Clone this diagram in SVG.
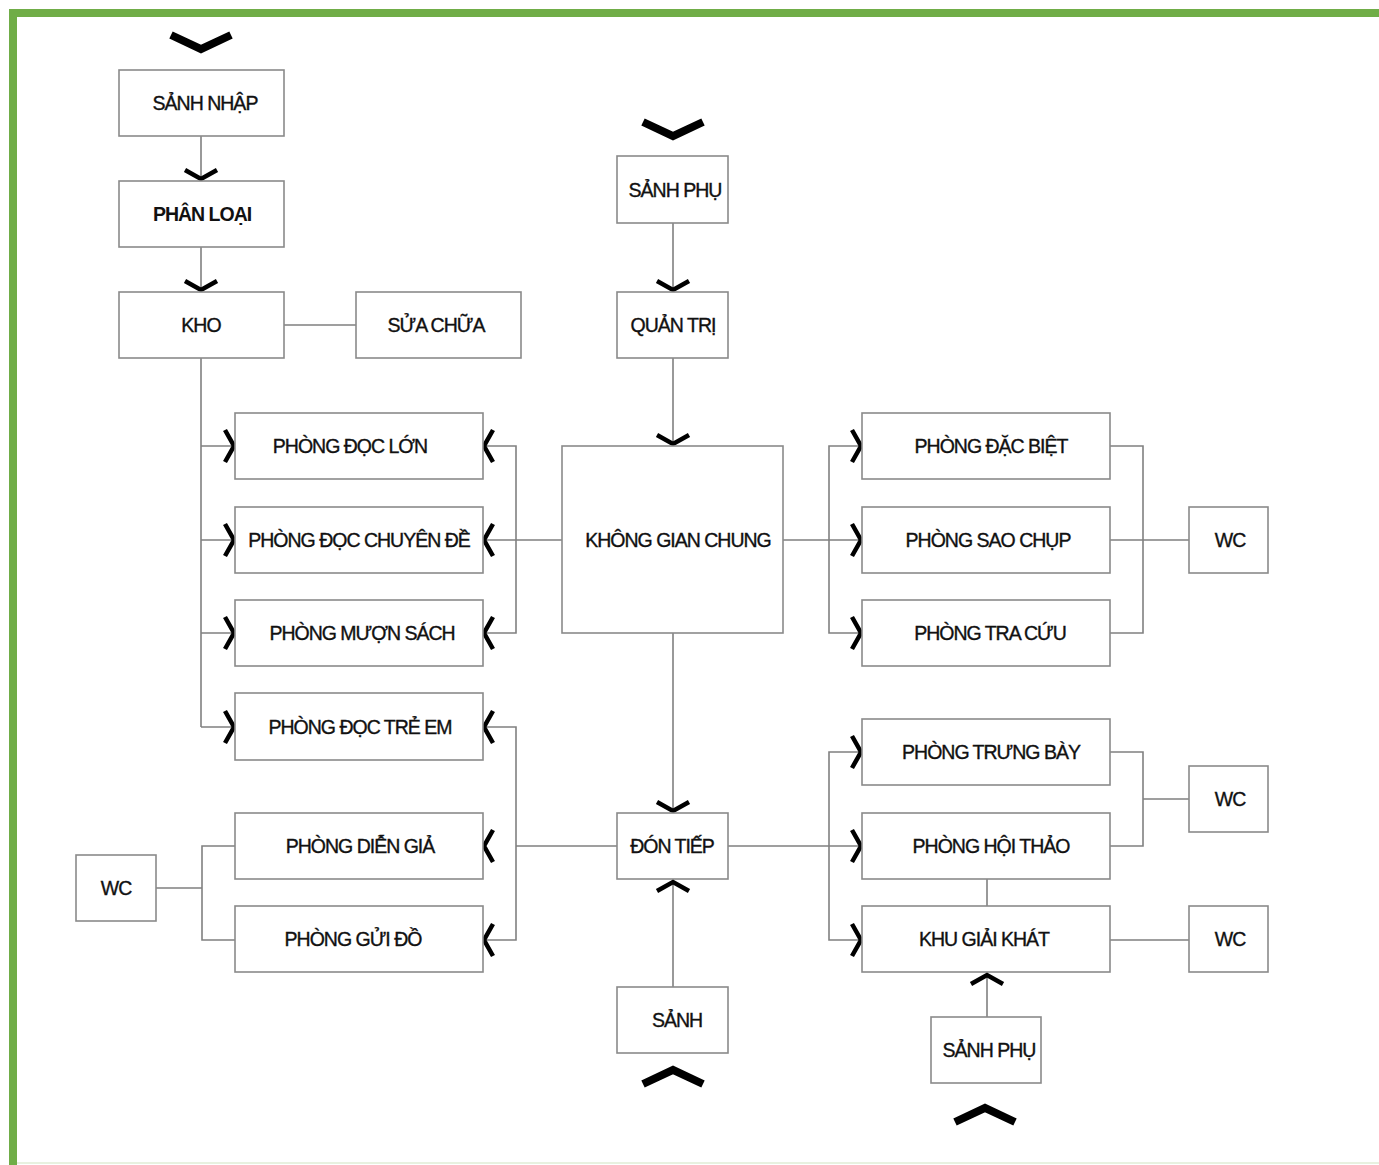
<svg xmlns="http://www.w3.org/2000/svg" xmlns:xlink="http://www.w3.org/1999/xlink" width="1379" height="1165" viewBox="0 0 1379 1165">
<style>
.bx{fill:#fff;stroke:#8a8a8a;stroke-width:1.6}
.ln{fill:none;stroke:#808080;stroke-width:1.6}
.t{font-family:"Liberation Sans",Arial,sans-serif;font-size:19.5px;fill:#111;stroke:#111;stroke-width:0.35;text-anchor:middle;letter-spacing:-1px}
.b{font-weight:bold;stroke-width:0}
.cs{fill:none;stroke:#000;stroke-width:4.5;stroke-linejoin:miter}
.cb{fill:none;stroke:#000;stroke-width:8;stroke-linejoin:miter}
</style>
<defs>
<path id="cs" class="cs" d="M-16,-9 L0,0 L16,-9"/>
<path id="cb" class="cb" d="M-30,-14 L0,0 L30,-14"/>
</defs>
<rect x="0" y="0" width="1379" height="1165" fill="#fff"/>
<rect x="9" y="9" width="1370" height="8" fill="#70ad47"/>
<rect x="9" y="9" width="8" height="1156" fill="#70ad47"/>
<rect x="17" y="1162" width="1362" height="2" fill="#e8f1e0"/>

<g id="connectors">
<path class="ln" d="M201,136 V181 M201,247 V292 M284,325 H356 M201,358 V727 M201,446 H235 M201,540 H235 M201,633 H235 M201,727 H235"/>
<path class="ln" d="M483,446 H516 V633 H483 M483,540 H562 M483,727 H516 V940 H483 M516,846 H617"/>
<path class="ln" d="M156,888 H202 M235,846 H202 V940 H235"/>
<path class="ln" d="M673,223 V292 M673,358 V446 M673,633 V813 M673,879 V987"/>
<path class="ln" d="M783,540 H862 M862,446 H829 V633 H862 M1110,446 H1143 V633 H1110 M1110,540 H1189"/>
<path class="ln" d="M728,846 H862 M862,752 H829 V940 H862 M1110,752 H1143 V846 H1110 M1143,799 H1189 M987,879 V906 M1110,940 H1189 M987,972 V1017"/>
<use xlink:href="#cb" transform="translate(201,49)"/>
<use xlink:href="#cs" transform="translate(201,179)"/>
<use xlink:href="#cs" transform="translate(201,290)"/>
<use xlink:href="#cb" transform="translate(673,136)"/>
<use xlink:href="#cs" transform="translate(673,290)"/>
<use xlink:href="#cs" transform="translate(673,444)"/>
<use xlink:href="#cs" transform="translate(673,811)"/>
<use xlink:href="#cs" transform="translate(673,882) rotate(180)"/>
<use xlink:href="#cb" transform="translate(673,1070) rotate(180)"/>
<use xlink:href="#cs" transform="translate(987,975) rotate(180)"/>
<use xlink:href="#cb" transform="translate(985,1108) rotate(180)"/>
<use xlink:href="#cs" transform="translate(234,446) rotate(-90)"/>
<use xlink:href="#cs" transform="translate(234,540) rotate(-90)"/>
<use xlink:href="#cs" transform="translate(234,633) rotate(-90)"/>
<use xlink:href="#cs" transform="translate(234,727) rotate(-90)"/>
<use xlink:href="#cs" transform="translate(484,446) rotate(90)"/>
<use xlink:href="#cs" transform="translate(484,540) rotate(90)"/>
<use xlink:href="#cs" transform="translate(484,633) rotate(90)"/>
<use xlink:href="#cs" transform="translate(484,727) rotate(90)"/>
<use xlink:href="#cs" transform="translate(484,846) rotate(90)"/>
<use xlink:href="#cs" transform="translate(484,940) rotate(90)"/>
<use xlink:href="#cs" transform="translate(861,446) rotate(-90)"/>
<use xlink:href="#cs" transform="translate(861,540) rotate(-90)"/>
<use xlink:href="#cs" transform="translate(861,633) rotate(-90)"/>
<use xlink:href="#cs" transform="translate(861,752) rotate(-90)"/>
<use xlink:href="#cs" transform="translate(861,846) rotate(-90)"/>
<use xlink:href="#cs" transform="translate(861,940) rotate(-90)"/>
</g>

<g id="sanh-nhap"><rect class="bx" x="119" y="70" width="165" height="66"/><text class="t" x="205" y="110">SẢNH NHẬP</text></g>
<g id="phan-loai"><rect class="bx" x="119" y="181" width="165" height="66"/><text class="t b" x="202" y="221">PHÂN LOẠI</text></g>
<g id="kho"><rect class="bx" x="119" y="292" width="165" height="66"/><text class="t" x="201" y="332">KHO</text></g>
<g id="sua-chua"><rect class="bx" x="356" y="292" width="165" height="66"/><text class="t" x="436" y="332">SỬA CHỮA</text></g>
<g id="sanh-phu-1"><rect class="bx" x="617" y="156" width="111" height="67"/><text class="t" x="675" y="197">SẢNH PHỤ</text></g>
<g id="quan-tri"><rect class="bx" x="617" y="292" width="111" height="66"/><text class="t" x="673" y="332">QUẢN TRỊ</text></g>
<g id="phong-doc-lon"><rect class="bx" x="235" y="413" width="248" height="66"/><text class="t" x="350" y="453">PHÒNG ĐỌC LỚN</text></g>
<g id="phong-doc-chuyen-de"><rect class="bx" x="235" y="507" width="248" height="66"/><text class="t" x="359" y="547">PHÒNG ĐỌC CHUYÊN ĐỀ</text></g>
<g id="phong-muon-sach"><rect class="bx" x="235" y="600" width="248" height="66"/><text class="t" x="362" y="640">PHÒNG MƯỢN SÁCH</text></g>
<g id="phong-doc-tre-em"><rect class="bx" x="235" y="693" width="248" height="67"/><text class="t" x="360" y="734">PHÒNG ĐỌC TRẺ EM</text></g>
<g id="khong-gian-chung"><rect class="bx" x="562" y="446" width="221" height="187"/><text class="t" x="678" y="547">KHÔNG GIAN CHUNG</text></g>
<g id="phong-dac-biet"><rect class="bx" x="862" y="413" width="248" height="66"/><text class="t" x="991" y="453">PHÒNG ĐẶC BIỆT</text></g>
<g id="phong-sao-chup"><rect class="bx" x="862" y="507" width="248" height="66"/><text class="t" x="988" y="547">PHÒNG SAO CHỤP</text></g>
<g id="phong-tra-cuu"><rect class="bx" x="862" y="600" width="248" height="66"/><text class="t" x="990" y="640">PHÒNG TRA CỨU</text></g>
<g id="wc-1"><rect class="bx" x="1189" y="507" width="79" height="66"/><text class="t" x="1230" y="547">WC</text></g>
<g id="phong-trung-bay"><rect class="bx" x="862" y="719" width="248" height="66"/><text class="t" x="991" y="759">PHÒNG TRƯNG BÀY</text></g>
<g id="phong-hoi-thao"><rect class="bx" x="862" y="813" width="248" height="66"/><text class="t" x="991" y="853">PHÒNG HỘI THẢO</text></g>
<g id="khu-giai-khat"><rect class="bx" x="862" y="906" width="248" height="66"/><text class="t" x="984" y="946">KHU GIẢI KHÁT</text></g>
<g id="wc-2"><rect class="bx" x="1189" y="766" width="79" height="66"/><text class="t" x="1230" y="806">WC</text></g>
<g id="wc-3"><rect class="bx" x="1189" y="906" width="79" height="66"/><text class="t" x="1230" y="946">WC</text></g>
<g id="don-tiep"><rect class="bx" x="617" y="813" width="111" height="66"/><text class="t" x="672" y="853">ĐÓN TIẾP</text></g>
<g id="sanh"><rect class="bx" x="617" y="987" width="111" height="66"/><text class="t" x="677" y="1027">SẢNH</text></g>
<g id="sanh-phu-2"><rect class="bx" x="931" y="1017" width="110" height="66"/><text class="t" x="989" y="1057">SẢNH PHỤ</text></g>
<g id="phong-dien-gia"><rect class="bx" x="235" y="813" width="248" height="66"/><text class="t" x="360" y="853">PHÒNG DIỄN GIẢ</text></g>
<g id="phong-gui-do"><rect class="bx" x="235" y="906" width="248" height="66"/><text class="t" x="353" y="946">PHÒNG GỬI ĐỒ</text></g>
<g id="wc-left"><rect class="bx" x="76" y="855" width="80" height="66"/><text class="t" x="116" y="895">WC</text></g>
</svg>
